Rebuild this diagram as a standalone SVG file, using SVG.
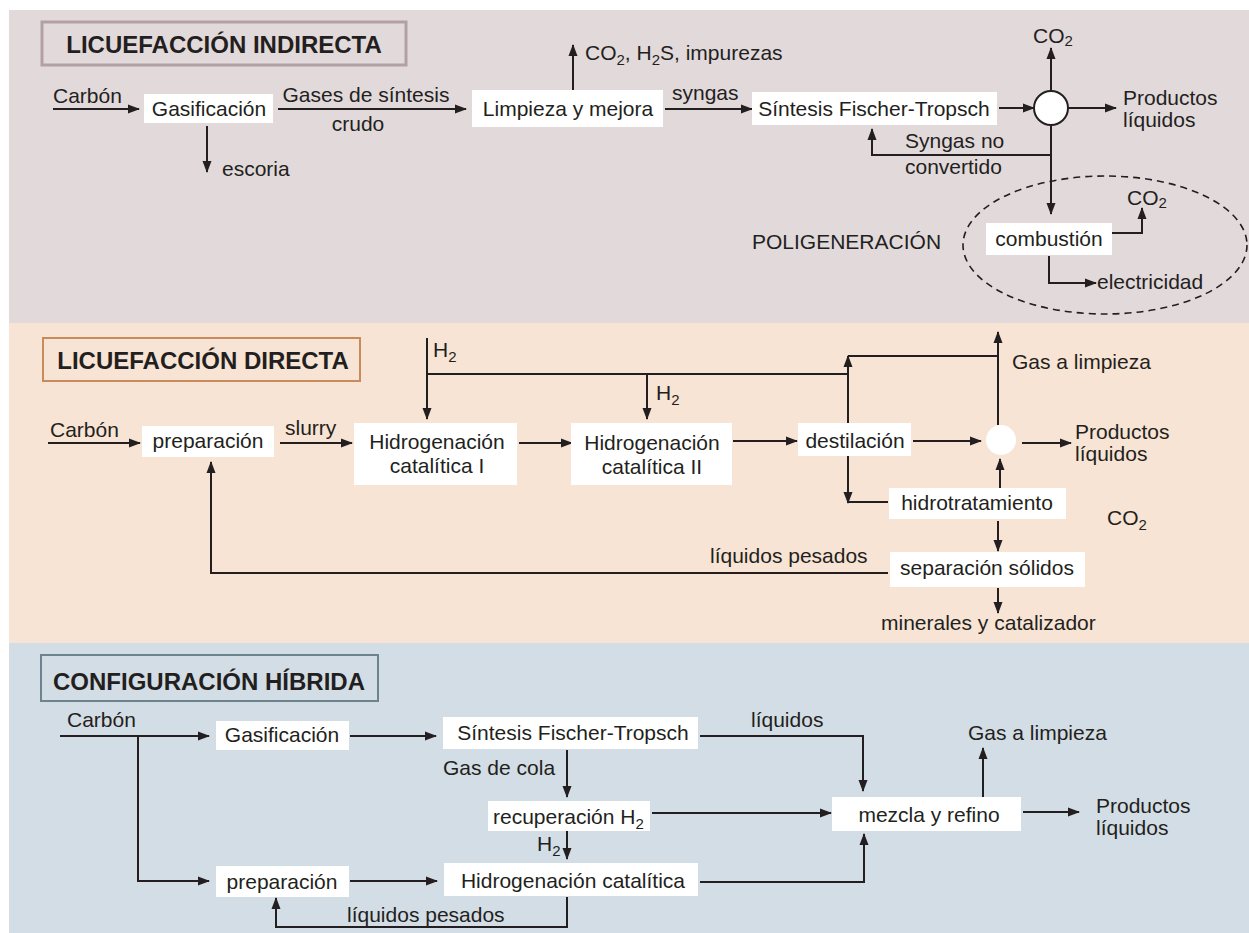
<svg xmlns="http://www.w3.org/2000/svg" width="1249" height="933" viewBox="0 0 1249 933">
<defs>
<marker id="ah" markerUnits="userSpaceOnUse" viewBox="0 0 12 10" refX="11" refY="5" markerWidth="12" markerHeight="10" orient="auto">
<path d="M0,0.5 L12,5 L0,9.5 z" fill="#231f20"/>
</marker>
<style>
text{font-family:"Liberation Sans",Arial,Helvetica,sans-serif;font-size:21px;fill:#231f20}
.t{font-weight:bold;font-size:24px}
.m{text-anchor:middle}
.box{fill:#ffffff}
.c path,.c line{fill:none;stroke:#231f20;stroke-width:2}
.a{marker-end:url(#ah)}
.s{font-size:15px}
</style>
</defs>
<rect x="0" y="0" width="1249" height="933" fill="#ffffff"/>
<rect x="9" y="10" width="1240" height="313" fill="#e2d9db"/>
<rect x="9" y="323" width="1240" height="320" fill="#f8e4d4"/>
<rect x="9" y="643" width="1240" height="290" fill="#d3dde5"/>

<g id="title-indirecta"><rect x="42" y="22" width="364" height="43" fill="none" stroke="#b3a0a6" stroke-width="3"/><text class="t m" x="224" y="53">LICUEFACCIÓN INDIRECTA</text></g>
<g id="title-directa"><rect x="43" y="338" width="317" height="43" fill="none" stroke="#c98a5e" stroke-width="2"/><text class="t m" x="203" y="369">LICUEFACCIÓN DIRECTA</text></g>
<g id="title-hibrida"><rect x="41" y="655" width="337" height="46" fill="none" stroke="#6d838e" stroke-width="2"/><text class="t m" x="209" y="690">CONFIGURACIÓN HÍBRIDA</text></g>

<g id="connectors" class="c">
<!-- top -->
<path class="a" d="M53,109 H139"/>
<path class="a" d="M207,126 V172"/>
<path class="a" d="M278,109 H466"/>
<path class="a" d="M573,90 V45"/>
<path class="a" d="M665,109 H752"/>
<path class="a" d="M999,108 H1034"/>
<path class="a" d="M1051,91 V48"/>
<path class="a" d="M1068,108 H1116"/>
<path class="a" d="M1051,125 V214"/>
<path class="a" d="M1051,155 H872 V129"/>
<path class="a" d="M1112,233 H1142 V208"/>
<path class="a" d="M1049,256 V283 H1096"/>
<ellipse cx="1105" cy="245" rx="142" ry="69" fill="none" stroke="#231f20" stroke-width="1.6" stroke-dasharray="7,5"/>
<!-- middle -->
<path class="a" d="M48,443 H140"/>
<path class="a" d="M280,443 H352"/>
<path class="a" d="M519,443 H572"/>
<path class="a" d="M733,441 H797"/>
<path class="a" d="M913,441 H981"/>
<path class="a" d="M1022,443 H1071"/>
<path class="a" d="M427,338 V419"/>
<path d="M427,374 H848"/>
<path class="a" d="M647,374 V419"/>
<path class="a" d="M848,423 V356"/>
<path d="M848,356 H998"/>
<path class="a" d="M998,425 V332"/>
<path class="a" d="M848,456 V503"/>
<path d="M848,502 H888"/>
<path class="a" d="M1000,488 V459"/>
<path class="a" d="M998,521 V551"/>
<path class="a" d="M998,588 V613"/>
<path class="a" d="M888,573 H211 V462"/>
<!-- bottom -->
<path class="a" d="M60,736 H209"/>
<path class="a" d="M138,736 V881 H209"/>
<path class="a" d="M350,736 H436"/>
<path class="a" d="M700,736 H863 V791"/>
<path class="a" d="M567,750 V797"/>
<path class="a" d="M652,813 H831"/>
<path class="a" d="M567,831 V859"/>
<path class="a" d="M350,881 H437"/>
<path class="a" d="M700,882 H864 V834"/>
<path class="a" d="M567,897 V927 H276 V898"/>
<path class="a" d="M983,797 V748"/>
<path class="a" d="M1023,812 H1079"/>
</g>

<!-- top nodes -->
<g id="carbon1"><text x="53" y="103">Carbón</text></g>
<g id="gasificacion1"><rect class="box" x="144" y="94" width="129" height="29"/><text class="m" x="209" y="116">Gasificación</text></g>
<g id="lbl-gases"><text class="m" x="366" y="102">Gases de síntesis</text><text class="m" x="358" y="131">crudo</text></g>
<g id="lbl-escoria"><text x="222" y="176">escoria</text></g>
<g id="limpieza"><rect class="box" x="472" y="90" width="191" height="37"/><text class="m" x="568" y="116">Limpieza y mejora</text></g>
<g id="lbl-co2-imp"><text x="585" y="60">CO<tspan class="s" dy="5">2</tspan><tspan dy="-5">, H</tspan><tspan class="s" dy="5">2</tspan><tspan dy="-5">S, impurezas</tspan></text></g>
<g id="lbl-syngas"><text x="672" y="100">syngas</text></g>
<g id="ft1"><rect class="box" x="752" y="92" width="245" height="33"/><text class="m" x="874" y="116">Síntesis Fischer-Tropsch</text></g>
<g id="sep1"><circle cx="1051" cy="108" r="17" fill="#ffffff" stroke="#231f20" stroke-width="2"/></g>
<g id="lbl-co2-top"><text x="1033" y="43">CO<tspan class="s" dy="3">2</tspan></text></g>
<g id="prod1"><text x="1123" y="105">Productos</text><text x="1123" y="127">líquidos</text></g>
<g id="lbl-syngasno"><text x="905" y="148">Syngas no</text><text x="905" y="174">convertido</text></g>
<g id="poli"><text x="752" y="249">POLIGENERACIÓN</text></g>
<g id="combustion"><rect class="box" x="986" y="223" width="126" height="32"/><text class="m" x="1049" y="246">combustión</text></g>
<g id="lbl-co2-comb"><text x="1127" y="205">CO<tspan class="s" dy="3">2</tspan></text></g>
<g id="lbl-elec"><text x="1097" y="289">electricidad</text></g>

<!-- middle nodes -->
<g id="carbon2"><text x="50" y="437">Carbón</text></g>
<g id="preparacion2"><rect class="box" x="142" y="426" width="132" height="31"/><text class="m" x="208" y="448">preparación</text></g>
<g id="lbl-slurry"><text x="285" y="435">slurry</text></g>
<g id="hc1"><rect class="box" x="354" y="423" width="163" height="62"/><text class="m" x="437" y="449">Hidrogenación</text><text class="m" x="437" y="473">catalítica I</text></g>
<g id="hc2"><rect class="box" x="571" y="423" width="161" height="62"/><text class="m" x="652" y="450">Hidrogenación</text><text class="m" x="652" y="474">catalítica II</text></g>
<g id="lbl-h2a"><text x="433" y="357">H<tspan class="s" dy="5">2</tspan></text></g>
<g id="lbl-h2b"><text x="656" y="400">H<tspan class="s" dy="5">2</tspan></text></g>
<g id="destilacion"><rect class="box" x="798" y="423" width="113" height="33"/><text class="m" x="855" y="448">destilación</text></g>
<g id="sep2"><circle cx="1001" cy="440" r="15" fill="#ffffff"/></g>
<g id="lbl-gas2"><text x="1012" y="369">Gas a limpieza</text></g>
<g id="prod2"><text x="1075" y="439">Productos</text><text x="1075" y="461">líquidos</text></g>
<g id="hidrotratamiento"><rect class="box" x="889" y="488" width="177" height="31"/><text class="m" x="977" y="510">hidrotratamiento</text></g>
<g id="lbl-co2-mid"><text x="1107" y="525">CO<tspan class="s" dy="5">2</tspan></text></g>
<g id="separacion"><rect class="box" x="890" y="552" width="195" height="35"/><text class="m" x="987" y="575">separación sólidos</text></g>
<g id="lbl-minerales"><text x="881" y="630">minerales y catalizador</text></g>
<g id="lbl-pesados2"><text x="710" y="563">líquidos pesados</text></g>

<!-- bottom nodes -->
<g id="carbon3"><text x="67" y="727">Carbón</text></g>
<g id="gasificacion3"><rect class="box" x="216" y="721" width="133" height="29"/><text class="m" x="282" y="742">Gasificación</text></g>
<g id="ft3"><rect class="box" x="443" y="717" width="255" height="32"/><text class="m" x="573" y="740">Síntesis Fischer-Tropsch</text></g>
<g id="lbl-liquidos3"><text x="751" y="727">líquidos</text></g>
<g id="lbl-gascola"><text x="443" y="775">Gas de cola</text></g>
<g id="recuperacion"><rect class="box" x="488" y="801" width="162" height="30"/><text x="493" y="824">recuperación H<tspan class="s" dy="5">2</tspan></text></g>
<g id="lbl-h2c"><text x="537" y="851">H<tspan class="s" dy="5">2</tspan></text></g>
<g id="mezcla"><rect class="box" x="832" y="797" width="189" height="34"/><text class="m" x="929" y="822">mezcla y refino</text></g>
<g id="lbl-gas3"><text x="968" y="740">Gas a limpieza</text></g>
<g id="prod3"><text x="1096" y="813">Productos</text><text x="1096" y="835">líquidos</text></g>
<g id="hc3"><rect class="box" x="444" y="863" width="254" height="33"/><text class="m" x="573" y="888">Hidrogenación catalítica</text></g>
<g id="preparacion3"><rect class="box" x="216" y="866" width="133" height="31"/><text class="m" x="282" y="889">preparación</text></g>
<g id="lbl-pesados3"><text x="347" y="922">líquidos pesados</text></g>
</svg>
